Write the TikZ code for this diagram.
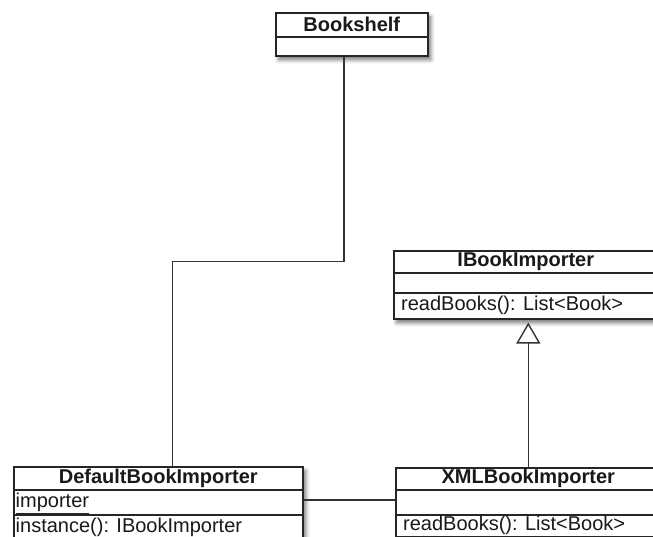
\documentclass[tikz,border=0pt]{standalone}
\usepackage{fontspec}
\setmainfont{Liberation Sans}
\usetikzlibrary{shadows.blur, arrows.meta, calc}
\begin{document}
\begin{tikzpicture}[x=1pt, y=-1pt,
  classbox/.style={draw=black!85, line width=1.6pt, fill=white, inner sep=0pt,
    anchor=north west,
    blur shadow={shadow xshift=3pt, shadow yshift=-4pt, shadow blur radius=4pt,
      shadow blur steps=8, shadow opacity=55}},
  divider/.style={draw=black!85, line width=1.4pt},
  classname/.style={font=\fontsize{20}{22}\selectfont\bfseries, text=black!90,
    inner sep=0pt},
  member/.style={font=\fontsize{20}{22}\selectfont, text=black!90, inner sep=0pt,
    anchor=west},
  link/.style={draw=black!80, line width=1.4pt},
  realize/.style={link, -{Triangle[open, width=24pt, length=21pt, fill=white]}}
]
\useasboundingbox (0,0) rectangle (653,537);
\clip (0,0) rectangle (653,537);

% Bookshelf
\node[classbox, minimum width=152pt, minimum height=43pt] (bs) at (275,12) {};
\draw[divider] ($(bs.north west)+(0,25)$) -- ($(bs.north east)+(0,25)$);
\node[classname] (bsname) at ($(bs.north)+(0,12.5)$) {Bookshelf};

% IBookImporter
\node[classbox, minimum width=264pt, minimum height=68pt] (ibi) at (393,250) {};
\draw[divider] ($(ibi.north west)+(0,23)$) -- ($(ibi.north east)+(0,23)$);
\draw[divider] ($(ibi.north west)+(0,43)$) -- ($(ibi.north east)+(0,43)$);
\node[classname] (ibiname) at ($(ibi.north)+(0,11.5)$) {IBookImporter};
\node[member] (ibiop) at ($(ibi.north west)+(8,55.5)$) {readBooks(): List<Book>};

% DefaultBookImporter
\node[classbox, minimum width=289pt, minimum height=76pt] (dbi) at (13,466) {};
\draw[divider] ($(dbi.north west)+(0,24)$) -- ($(dbi.north east)+(0,24)$);
\draw[divider] ($(dbi.north west)+(0,49)$) -- ($(dbi.north east)+(0,49)$);
\node[classname] (dbiname) at ($(dbi.north)+(0,12)$) {DefaultBookImporter};
\node[member] (dbiattr) at ($(dbi.north west)+(2.5,36)$) {importer};
\draw[line width=1pt, black!85] ([yshift=-2pt]dbiattr.south west) -- ([yshift=-2pt]dbiattr.south east);
\node[member] (dbiop) at ($(dbi.north west)+(2.5,61)$) {instance(): IBookImporter};

% XMLBookImporter
\node[classbox, minimum width=265pt, minimum height=69pt] (xml) at (395,467) {};
\draw[divider] ($(xml.north west)+(0,23)$) -- ($(xml.north east)+(0,23)$);
\draw[divider] ($(xml.north west)+(0,48)$) -- ($(xml.north east)+(0,48)$);
\node[classname] (xmlname) at ($(xml.north)+(0,11.5)$) {XMLBookImporter};
\node[member] (xmlop) at ($(xml.north west)+(8,58.5)$) {readBooks(): List<Book>};

% Connectors
\draw[link] ([xshift=-8pt]bs.south) -- ++(0,205) -| ([xshift=14pt]dbi.north);
\draw[realize, shorten >=3pt] (xml.north) -- (xml.north |- ibi.south);
\draw[link] ($(dbi.north east)+(0,34)$) -- ($(xml.north west)+(0,33)$);
\end{tikzpicture}
\end{document}
